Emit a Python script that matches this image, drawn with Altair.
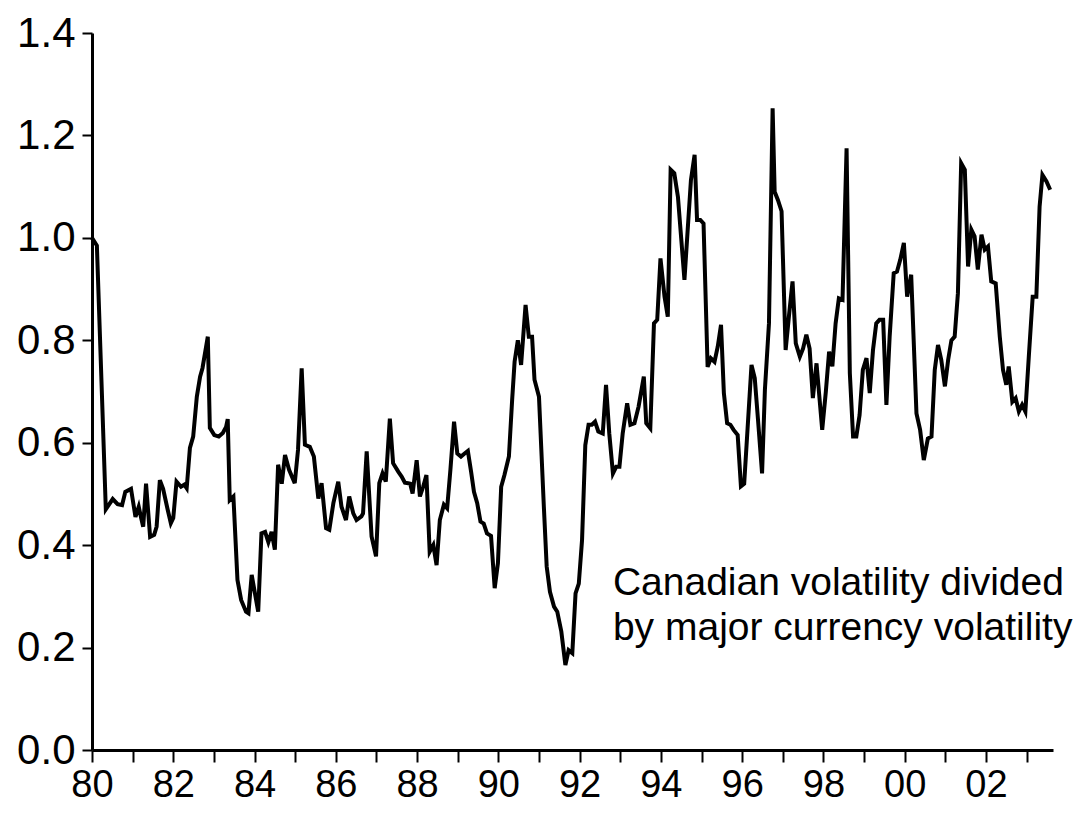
import altair as alt
import pandas as pd

# Decimal-year dates and ratio values
dates = [
    1980.00, 1980.12, 1980.34, 1980.51, 1980.63, 1980.74, 1980.82, 1980.96,
    1981.07, 1981.15, 1981.21, 1981.26, 1981.33, 1981.43, 1981.53, 1981.59,
    1981.67, 1981.75, 1981.86, 1981.94, 1982.00, 1982.08, 1982.19, 1982.27,
    1982.33, 1982.41, 1982.49, 1982.58, 1982.66, 1982.72, 1982.85, 1982.90,
    1983.01, 1983.12, 1983.22, 1983.30, 1983.34, 1983.39, 1983.48, 1983.58,
    1983.67, 1983.79, 1983.85, 1983.93, 1984.09, 1984.17, 1984.26, 1984.34,
    1984.42, 1984.50, 1984.58, 1984.67, 1984.75, 1984.85, 1984.99, 1985.07,
    1985.16, 1985.24, 1985.36, 1985.46, 1985.57, 1985.65, 1985.76, 1985.84,
    1985.94, 1986.06, 1986.14, 1986.25, 1986.33, 1986.43, 1986.51, 1986.63,
    1986.67, 1986.76, 1986.88, 1986.99, 1987.07, 1987.15, 1987.23, 1987.33,
    1987.41, 1987.54, 1987.62, 1987.70, 1987.78, 1987.83, 1987.89, 1987.99,
    1988.07, 1988.15, 1988.23, 1988.31, 1988.40, 1988.48, 1988.56, 1988.66,
    1988.74, 1988.82, 1988.91, 1988.99, 1989.08, 1989.17, 1989.25, 1989.33,
    1989.40, 1989.48, 1989.56, 1989.64, 1989.72, 1989.82, 1989.91, 1989.99,
    1990.07, 1990.15, 1990.26, 1990.34, 1990.40, 1990.48, 1990.56, 1990.67,
    1990.75, 1990.83, 1990.89, 1991.00, 1991.12, 1991.19, 1991.27, 1991.37,
    1991.45, 1991.55, 1991.65, 1991.73, 1991.82, 1991.90, 1991.98, 1992.06,
    1992.14, 1992.22, 1992.30, 1992.38, 1992.46, 1992.57, 1992.65, 1992.73,
    1992.82, 1992.90, 1992.98, 1993.06, 1993.17, 1993.25, 1993.35, 1993.45,
    1993.58, 1993.64, 1993.74, 1993.83, 1993.91, 1993.99, 1994.09, 1994.17,
    1994.24, 1994.33, 1994.42, 1994.50, 1994.58, 1994.66, 1994.74, 1994.83,
    1994.89, 1994.97, 1995.05, 1995.15, 1995.23, 1995.32, 1995.40, 1995.48,
    1995.55, 1995.63, 1995.71, 1995.79, 1995.89, 1995.97, 1996.05, 1996.23,
    1996.31, 1996.39, 1996.49, 1996.56, 1996.66, 1996.75, 1996.80, 1996.88,
    1996.97, 1997.07, 1997.15, 1997.24, 1997.32, 1997.42, 1997.50, 1997.58,
    1997.66, 1997.74, 1997.83, 1997.97, 1998.06, 1998.14, 1998.22, 1998.30,
    1998.38, 1998.47, 1998.57, 1998.65, 1998.73, 1998.81, 1998.89, 1998.97,
    1999.06, 1999.14, 1999.22, 1999.30, 1999.38, 1999.47, 1999.55, 1999.63,
    1999.73, 1999.81, 1999.89, 1999.98, 2000.06, 2000.16, 2000.29, 2000.38,
    2000.47, 2000.57, 2000.66, 2000.74, 2000.82, 2000.90, 2000.99, 2001.07,
    2001.15, 2001.23, 2001.31, 2001.39, 2001.48, 2001.56, 2001.64, 2001.72,
    2001.80, 2001.89, 2001.97, 2002.05, 2002.13, 2002.24, 2002.34, 2002.42,
    2002.50, 2002.56, 2002.65, 2002.73, 2002.81, 2002.89, 2002.97, 2003.06,
    2003.15, 2003.24, 2003.32, 2003.39, 2003.49, 2003.58,
]

ratio = [
    1.000, 0.985, 0.470, 0.490, 0.480, 0.478, 0.504, 0.510,
    0.455, 0.475, 0.453, 0.436, 0.520, 0.416, 0.420, 0.436,
    0.527, 0.510, 0.470, 0.443, 0.453, 0.524, 0.514, 0.518,
    0.511, 0.590, 0.612, 0.690, 0.729, 0.746, 0.807, 0.629,
    0.615, 0.612, 0.619, 0.631, 0.646, 0.488, 0.495, 0.332,
    0.293, 0.270, 0.267, 0.342, 0.270, 0.423, 0.426, 0.406,
    0.426, 0.391, 0.557, 0.520, 0.576, 0.547, 0.521, 0.586,
    0.745, 0.596, 0.592, 0.573, 0.491, 0.521, 0.433, 0.430,
    0.482, 0.524, 0.475, 0.449, 0.495, 0.462, 0.449, 0.456,
    0.462, 0.583, 0.417, 0.378, 0.521, 0.540, 0.524, 0.647,
    0.560, 0.543, 0.534, 0.522, 0.521, 0.520, 0.501, 0.566,
    0.495, 0.514, 0.537, 0.387, 0.400, 0.361, 0.449, 0.479,
    0.472, 0.547, 0.641, 0.579, 0.573, 0.579, 0.584, 0.543,
    0.504, 0.482, 0.446, 0.442, 0.423, 0.418, 0.316, 0.365,
    0.514, 0.537, 0.573, 0.684, 0.758, 0.800, 0.752, 0.869,
    0.807, 0.807, 0.723, 0.690, 0.475, 0.358, 0.309, 0.280,
    0.270, 0.231, 0.166, 0.195, 0.189, 0.306, 0.325, 0.410,
    0.595, 0.635, 0.635, 0.641, 0.622, 0.618, 0.713, 0.618,
    0.540, 0.553, 0.553, 0.618, 0.677, 0.635, 0.638, 0.670,
    0.729, 0.638, 0.628, 0.833, 0.840, 0.960, 0.885, 0.846,
    1.133, 1.126, 1.080, 0.999, 0.918, 1.016, 1.113, 1.162,
    1.035, 1.035, 1.028, 0.748, 0.765, 0.758, 0.788, 0.830,
    0.697, 0.638, 0.635, 0.625, 0.615, 0.515, 0.520, 0.752,
    0.726, 0.645, 0.540, 0.703, 0.833, 1.253, 1.090, 1.074,
    1.052, 0.781, 0.846, 0.915, 0.794, 0.768, 0.784, 0.811,
    0.784, 0.687, 0.755, 0.625, 0.700, 0.778, 0.749, 0.833,
    0.882, 0.879, 1.175, 0.736, 0.612, 0.612, 0.654, 0.742,
    0.765, 0.697, 0.781, 0.833, 0.840, 0.840, 0.674, 0.807,
    0.931, 0.934, 0.957, 0.990, 0.885, 0.928, 0.657, 0.625,
    0.566, 0.608, 0.612, 0.742, 0.791, 0.762, 0.710, 0.762,
    0.800, 0.807, 0.892, 1.146, 1.133, 0.944, 1.016, 1.003,
    0.938, 1.006, 0.977, 0.983, 0.915, 0.911, 0.807, 0.742,
    0.713, 0.749, 0.680, 0.687, 0.661, 0.674, 0.661, 0.775,
    0.885, 0.885, 1.061, 1.123, 1.110, 1.094,
]

year_ticks = list(range(1980, 2004))
y_ticks = [0.0, 0.2, 0.4, 0.6, 0.8, 1.0, 1.2, 1.4]
note_lines = ["Canadian volatility divided", "by major currency volatility"]
note_x = [1992.82, 1992.82]
note_y = [0.326, 0.238]

FONT = "Liberation Sans"
X_FS = 38
Y_FS = 42
NOTE_FS = 39

df = pd.DataFrame({"t": dates, "v": ratio})
notes = pd.DataFrame({"t": note_x, "v": note_y, "label": note_lines})

x_enc = alt.X(
    "t:Q",
    scale=alt.Scale(domain=[1980, 2003.65], nice=False, zero=False),
    axis=alt.Axis(
        values=year_ticks,
        labelExpr="datum.value % 2 == 0 ? format(datum.value % 100, '02d') : ''",
        grid=False, tickSize=12, tickWidth=2, domainWidth=3,
        tickColor="black", domainColor="black", labelColor="black",
        labelFont=FONT, labelFontSize=X_FS, labelPadding=4,
        labelOverlap=False, labelFlush=False, title=None,
    ),
)
y_enc = alt.Y(
    "v:Q",
    scale=alt.Scale(domain=[0, 1.4], nice=False),
    axis=alt.Axis(
        values=y_ticks, format=".1f",
        grid=False, tickSize=10, tickWidth=2, domainWidth=3,
        tickColor="black", domainColor="black", labelColor="black",
        labelFont=FONT, labelFontSize=Y_FS, labelPadding=7,
        labelOverlap=False, labelFlush=False, title=None,
    ),
)

line = alt.Chart(df).mark_line(color="black", strokeWidth=4, strokeJoin="miter").encode(
    x=x_enc, y=y_enc
)

text = alt.Chart(notes).mark_text(
    align="left", baseline="middle", font=FONT, fontSize=NOTE_FS, color="black"
).encode(x="t:Q", y="v:Q", text="label:N")

chart = (
    alt.layer(line, text)
    .properties(
        width=961,
        height=717,
        autosize=alt.AutoSizeParams(type="none"),
        padding={"left": 84, "top": 25, "right": 26, "bottom": 55},
        background="white",
    )
    .configure_view(stroke=None)
)

chart.save("out.html", embed_options={"renderer": "svg", "actions": False})
